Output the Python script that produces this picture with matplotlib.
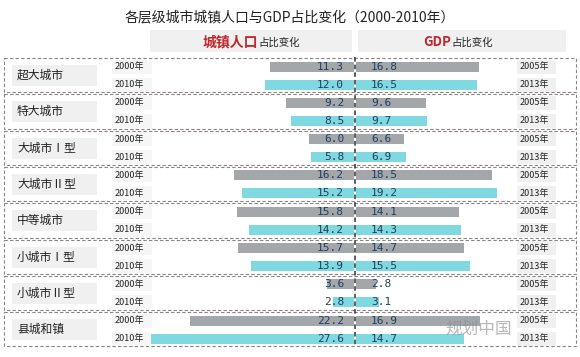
import matplotlib
matplotlib.use("Agg")
import matplotlib.pyplot as plt
from matplotlib.patches import Rectangle

plt.rcParams['font.family'] = ['Noto Sans CJK SC', 'DejaVu Sans']

# données
villes = ['超大城市', '特大城市', '大城市Ⅰ型', '大城市Ⅱ型',
          '中等城市', '小城市Ⅰ型', '小城市Ⅱ型', '县城和镇']
pop2000 = [11.3, 9.2, 6.0, 16.2, 15.8, 15.7, 3.6, 22.2]
pop2010 = [12.0, 8.5, 5.8, 15.2, 14.2, 13.9, 2.8, 27.6]
gdp2005 = [16.8, 9.6, 6.6, 18.5, 14.1, 14.7, 2.8, 16.9]
gdp2013 = [16.5, 9.7, 6.9, 19.2, 14.3, 15.5, 3.1, 14.7]
annees_g = ['2000年', '2010年']
annees_d = ['2005年', '2013年']

gris = '#a4a7aa'
cyan = '#80d8e1'
bleu = '#1f3f5f'
fond = '#f0f0f0'
trait = '#8a8286'

echelle = 7.35   # pixels par point de pourcentage
centre = 355.0


def px(p):
    # position en pixels -> unité des données
    return (p - centre) / echelle


fig = plt.figure(figsize=(5.8, 3.57), dpi=100)
ax = fig.add_axes([0, 0, 1, 1])
ax.set_xlim(px(0), px(580))
ax.set_ylim(357, 0)
ax.axis('off')

haut0 = 57.0
pas = 36.3

# titre et en-têtes
ax.text(px(290), 17, '各层级城市城镇人口与GDP占比变化（2000-2010年）',
        ha='center', va='center', fontsize=10, color='#222222')
ax.add_patch(Rectangle((px(150), 30), px(352) - px(150), 22, color=fond, lw=0))
ax.add_patch(Rectangle((px(358), 30), px(566) - px(358), 22, color=fond, lw=0))
ax.text(px(258), 42, '城镇人口', ha='right', va='center', fontsize=10,
        color='#c0262d', fontweight='bold')
ax.text(px(258), 43, '占比变化', ha='left', va='center', fontsize=7.5, color='#222222')
ax.text(px(451), 42, 'GDP', ha='right', va='center', fontsize=9.5,
        color='#c0262d', fontweight='bold')
ax.text(px(451), 43, '占比变化', ha='left', va='center', fontsize=7.5, color='#222222')

for i, ville in enumerate(villes):
    haut = haut0 + pas * i
    y1 = haut + 9.5
    y2 = haut + 27.5

    # cadre pointillé du groupe
    ax.add_patch(Rectangle((px(4), haut + 1), px(576) - px(4), pas - 2,
                           fill=False, ec=trait, lw=0.8, ls=(0, (3, 2))))

    # nom de la ville
    ax.add_patch(Rectangle((px(12), haut + 8), px(97) - px(12), 21, color=fond, lw=0))
    ax.text(px(17), haut + 18.5, ville, ha='left', va='center', fontsize=8.5, color='#222222')

    # années
    for y, a_g, a_d in zip([y1, y2], annees_g, annees_d):
        ax.add_patch(Rectangle((px(112), y - 7), px(152) - px(112), 14, color='#f6f6f6', lw=0))
        ax.text(px(115), y, a_g, ha='left', va='center', fontsize=6.5, color='#222222')
        ax.add_patch(Rectangle((px(517), y - 7), px(556) - px(517), 14, color=fond, lw=0))
        ax.text(px(520), y, a_d, ha='left', va='center', fontsize=6.5, color='#222222')

    # barres
    ax.barh(y1, -pop2000[i], height=10, left=-0.2, color=gris, lw=0)
    ax.barh(y2, -pop2010[i], height=10, left=-0.2, color=cyan, lw=0)
    ax.barh(y1, gdp2005[i], height=10, left=0.1, color=gris, lw=0)
    ax.barh(y2, gdp2013[i], height=10, left=0.1, color=cyan, lw=0)

    # valeurs
    for y, v_g, v_d in zip([y1, y2], [pop2000[i], pop2010[i]], [gdp2005[i], gdp2013[i]]):
        ax.text(px(344), y, f'{v_g:.1f}', ha='right', va='center', fontsize=8,
                family='DejaVu Sans Mono', color=bleu)
        ax.text(px(371), y, f'{v_d:.1f}', ha='left', va='center', fontsize=8,
                family='DejaVu Sans Mono', color=bleu)

# ligne centrale
ax.plot([0, 0], [haut0, haut0 + pas * len(villes)], color='#333333', lw=1.1, ls=(0, (3, 2)))

# filigrane (décalé pour ne pas couvrir les années)
ax.text(px(512), 329, '规划中国', ha='right', va='center', fontsize=12,
        color='#888888', alpha=0.6)

fig.savefig('out.png', dpi=100)
